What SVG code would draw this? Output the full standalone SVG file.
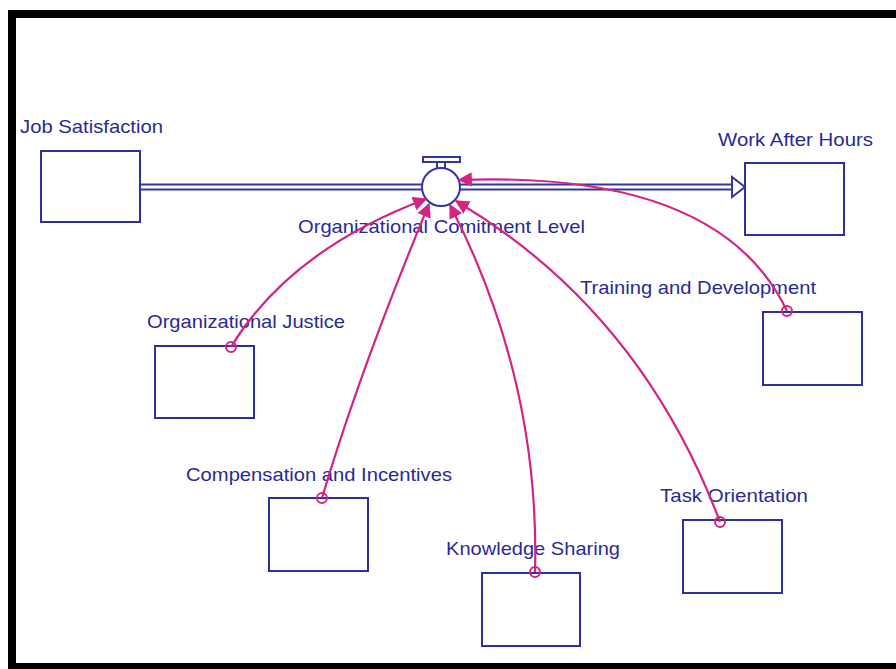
<svg xmlns="http://www.w3.org/2000/svg" width="896" height="669" viewBox="0 0 896 669">
<style>
.box{fill:#fff;stroke:#2e2e9c;stroke-width:2}
.lbl{font-family:"Liberation Sans",Arial,sans-serif;font-size:19px;fill:#2a2a96}
.pipe{stroke:#3434a6;stroke-width:2;fill:none}
.con{stroke:#d42383;stroke-width:2.2;fill:none}
.src{fill:none;stroke:#d42383;stroke-width:2}
</style>
<defs>
<marker id="ah" viewBox="0 0 10 10" refX="9" refY="5" markerWidth="6.5" markerHeight="6.5" orient="auto" markerUnits="strokeWidth">
<path d="M0,0 L10,5 L0,10 z" fill="#d42383"/>
</marker>
</defs>
<rect width="896" height="669" fill="#fff"/>
<rect x="12" y="14" width="900" height="653" fill="none" stroke="#000" stroke-width="8"/>
<g id="flows">
<line class="pipe" x1="140" y1="184.5" x2="423" y2="184.5"/>
<line class="pipe" x1="140" y1="189.5" x2="423" y2="189.5"/>
<line class="pipe" x1="460" y1="184.5" x2="733" y2="184.5"/>
<line class="pipe" x1="460" y1="189.5" x2="733" y2="189.5"/>
<path class="pipe" d="M732,177 L745,187 L732,197 Z"/>
</g>
<g id="valve">
<rect x="423" y="157" width="37" height="5" fill="#fff" stroke="#3434a6" stroke-width="2"/>
<line class="pipe" x1="437" y1="162" x2="437" y2="169"/>
<line class="pipe" x1="445" y1="162" x2="445" y2="169"/>
<circle cx="441" cy="187" r="19" fill="#fff" stroke="#3434a6" stroke-width="2"/>
<text class="lbl" x="298" y="233" textLength="287" lengthAdjust="spacingAndGlyphs">Organizational Comitment Level</text>
</g>
<g id="job-satisfaction">
<rect class="box" x="41" y="151" width="99" height="71"/>
<text class="lbl" x="20" y="133" textLength="143" lengthAdjust="spacingAndGlyphs">Job Satisfaction</text>
</g>
<g id="work-after-hours">
<rect class="box" x="745" y="163" width="99" height="72"/>
<text class="lbl" x="718" y="146" textLength="155" lengthAdjust="spacingAndGlyphs">Work After Hours</text>
</g>
<g id="organizational-justice">
<rect class="box" x="155" y="346" width="99" height="72"/>
<text class="lbl" x="147" y="328" textLength="198" lengthAdjust="spacingAndGlyphs">Organizational Justice</text>
</g>
<g id="training-and-development">
<rect class="box" x="763" y="312" width="99" height="73"/>
<text class="lbl" x="580" y="294" textLength="236" lengthAdjust="spacingAndGlyphs">Training and Development</text>
</g>
<g id="compensation-and-incentives">
<rect class="box" x="269" y="498" width="99" height="73"/>
<text class="lbl" x="186" y="481" textLength="266" lengthAdjust="spacingAndGlyphs">Compensation and Incentives</text>
</g>
<g id="knowledge-sharing">
<rect class="box" x="482" y="573" width="98" height="73"/>
<text class="lbl" x="446" y="555" textLength="174" lengthAdjust="spacingAndGlyphs">Knowledge Sharing</text>
</g>
<g id="task-orientation">
<rect class="box" x="683" y="520" width="99" height="73"/>
<text class="lbl" x="660" y="502" textLength="148" lengthAdjust="spacingAndGlyphs">Task Orientation</text>
</g>
<g id="connectors">
<path class="con" d="M231,347 Q290,250 426,199" marker-end="url(#ah)"/>
<path class="con" d="M322,498 Q360,370 429,204" marker-end="url(#ah)"/>
<path class="con" d="M535,572 Q540,380 450,205" marker-end="url(#ah)"/>
<path class="con" d="M720,522 Q640,310 456,201" marker-end="url(#ah)"/>
<path class="con" d="M787,311 Q720,170 459,180" marker-end="url(#ah)"/>
<circle class="src" cx="231" cy="347" r="5"/>
<circle class="src" cx="322" cy="498" r="5"/>
<circle class="src" cx="535" cy="572" r="5"/>
<circle class="src" cx="720" cy="522" r="5"/>
<circle class="src" cx="787" cy="311" r="5"/>
</g>
</svg>
